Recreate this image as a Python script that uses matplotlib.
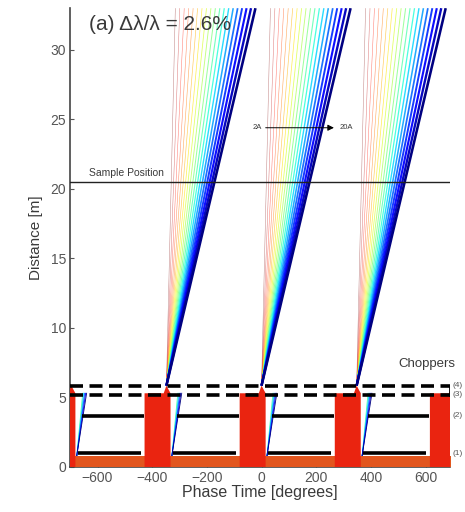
import numpy as np
import matplotlib.pyplot as plt

plt.rcParams['font.family'] = ['Liberation Sans', 'DejaVu Sans']

# --- data ---
pulse_centres = [-696, -348, 0, 348, 696]      # phase of each chopper opening [deg]
fan_origins = [-348, 0, 348]                   # where the transmitted fans start
wavelengths = [2, 3, 4, 5, 6, 7, 8, 9, 10, 11, 12, 13, 14, 15, 16, 17, 18, 19, 20]  # [A]
deg_per_m_per_A = 0.6                          # ray slope per Angstrom
slow_edge_lams = [12, 14, 16, 18, 20]

chopper_y = [1.0, 3.7, 5.2, 5.85]
chopper_names = ['(1)', '(2)', '(3)', '(4)']
closed_from = [25, 40]     # solid choppers: closed span after each opening
closed_to = [255, 265]
block_left, block_right = 80, 15   # red source block around each opening
block_top = 5.3
sample_y = 20.5
y_top = 33

fig = plt.figure(figsize=(4.65, 5.12), dpi=100)
ax = fig.add_axes([0.151, 0.088, 0.817, 0.896])

cmap = plt.get_cmap('jet_r')
txt = '#3a3a3a'

# fans of transmitted neutrons
for c in fan_origins:
    for lam in wavelengths:
        t = (lam - 2) / 18
        x_end = c + deg_per_m_per_A * lam * (y_top - chopper_y[3])
        ax.plot([c, x_end], [chopper_y[3], y_top], color=cmap(t),
                lw=0.35 + 1.5 * t ** 2, alpha=0.5 + 0.5 * t, zorder=2,
                solid_capstyle='butt')

# bottom source strip
ax.fill_between([-800, 800], 0, 0.8, color='#e2561e', zorder=3, lw=0)

# red blocks
for c in pulse_centres:
    xs = [c - block_left, c - block_left, c - 10, c, c + block_right, c + block_right]
    ys = [0, block_top, block_top, chopper_y[3], block_top, 0]
    ax.fill(xs, ys, color='#ea2410', lw=0, zorder=3)
    # slow neutron edges behind the opening
    for lam in slow_edge_lams:
        t = (lam - 2) / 18
        x0 = c + block_right + 5
        ax.plot([x0, x0 + 0.4 * lam * (block_top - 0.8)], [0.8, block_top],
                color=cmap(t), lw=0.6, zorder=2.5)

# solid chopper discs
for i in range(2):
    for c in pulse_centres:
        ax.plot([c + closed_from[i], c + closed_to[i]], [chopper_y[i]] * 2,
                color='black', lw=2.6, zorder=4, solid_capstyle='butt')

# dashed chopper discs
for i in (2, 3):
    ax.plot([-700, 690], [chopper_y[i]] * 2, color='black', lw=2.6,
            linestyle=(0, (3.6, 1.8)), zorder=4)
ax.plot([688, 688], [chopper_y[2], chopper_y[3]], color='black', lw=2.0, zorder=4)

# sample position
ax.axhline(sample_y, color='#222222', lw=1.0, zorder=5)
ax.text(-630, sample_y + 0.25, 'Sample Position', fontsize=7.5, color=txt,
        va='bottom', zorder=6)

# wavelength arrow
ax.annotate('', xy=(275, 24.4), xytext=(5, 24.4),
            arrowprops=dict(arrowstyle='-|>', color='black', lw=0.7,
                            mutation_scale=9), zorder=6)
ax.text(0, 24.4, '2A', fontsize=5.5, ha='right', va='center', color=txt)
ax.text(285, 24.4, '20A', fontsize=5.5, ha='left', va='center', color=txt)

ax.text(-632, 31.8, '(a) Δλ/λ = 2.6%', fontsize=15, color=txt, va='center')

ax.text(500, 7.4, 'Choppers', fontsize=9.5, color=txt, va='center',
        clip_on=False)
for y, name in zip(chopper_y, chopper_names):
    ax.text(700, y, name, fontsize=6, color='#555555', va='center', clip_on=False)

ax.set_xlim(-700, 690)
ax.set_ylim(0, y_top)
ax.set_xticks([-600, -400, -200, 0, 200, 400, 600])
ax.set_yticks([0, 5, 10, 15, 20, 25, 30])
ax.tick_params(direction='in', length=3, labelsize=10, colors='#555555', pad=3)
for s in ('top', 'right'):
    ax.spines[s].set_visible(False)
for s in ('left', 'bottom'):
    ax.spines[s].set_color('#444444')
    ax.spines[s].set_linewidth(1.2)
ax.set_xlabel('Phase Time [degrees]', fontsize=11.5, color=txt, labelpad=0)
ax.set_ylabel('Distance [m]', fontsize=11, color=txt, labelpad=5)

fig.savefig('out.png', dpi=100)
